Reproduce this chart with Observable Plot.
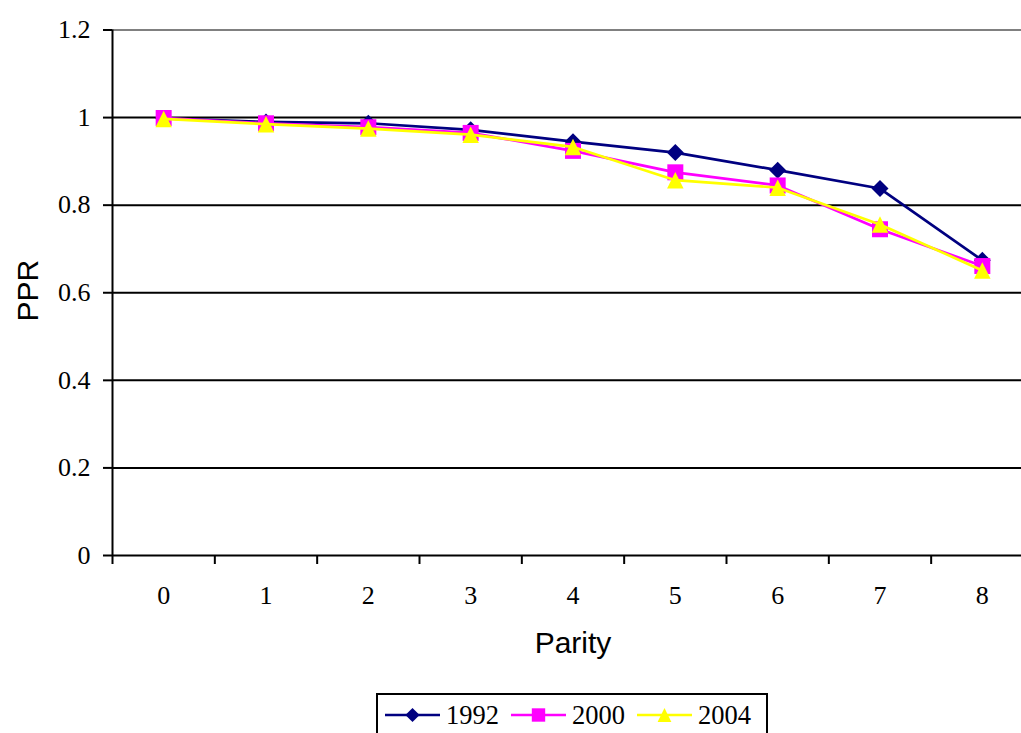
<!DOCTYPE html>
<html><head><meta charset="utf-8">
<script src="https://cdn.jsdelivr.net/npm/d3@7"></script>
<script src="https://cdn.jsdelivr.net/npm/@observablehq/plot@0.6"></script>
<style>
body{margin:0;background:#fff;}
#wrap{position:relative;width:1021px;height:733px;overflow:hidden;background:#fff;}
#legend{position:absolute;left:376px;top:693px;width:392px;height:52px;border:2px solid #000;box-sizing:border-box;
  display:flex;align-items:flex-start;padding:7px 0 0 7px;font-family:"Liberation Serif",serif;font-size:26.5px;line-height:26px;}
.item{display:flex;align-items:center;margin-right:12px;}
.item svg{display:block;margin-right:6px;}
</style></head><body><div id="wrap"></div>
<script>
const parity = [0, 1, 2, 3, 4, 5, 6, 7, 8];
const ppr1992 = [0.998, 0.990, 0.987, 0.972, 0.945, 0.920, 0.880, 0.838, 0.674];
const ppr2000 = [0.999, 0.987, 0.978, 0.965, 0.924, 0.875, 0.845, 0.745, 0.661];
const ppr2004 = [0.997, 0.985, 0.975, 0.961, 0.933, 0.857, 0.840, 0.756, 0.651];
const yTicks = [0, 0.2, 0.4, 0.6, 0.8, 1, 1.2];
const seriesNames = ["1992", "2000", "2004"];
const seriesValues = [ppr1992, ppr2000, ppr2004];
const colors = ["#000080", "#FF00FF", "#FFFF00"];

// symbols fitting a square box of side sqrt(size)
const diamondSym = {draw(ctx, size){const s = Math.sqrt(size)/2; ctx.moveTo(0,-s); ctx.lineTo(s,0); ctx.lineTo(0,s); ctx.lineTo(-s,0); ctx.closePath();}};
const squareSym = {draw(ctx, size){const s = Math.sqrt(size)/2; ctx.moveTo(-s,-s); ctx.lineTo(s,-s); ctx.lineTo(s,s); ctx.lineTo(-s,s); ctx.closePath();}};
const triangleSym = {draw(ctx, size){const s = Math.sqrt(size)/2; ctx.moveTo(0,-s); ctx.lineTo(s,s); ctx.lineTo(-s,s); ctx.closePath();}};
const symbols = [diamondSym, squareSym, triangleSym];
const markerR = [Math.sqrt(289/Math.PI), Math.sqrt(256/Math.PI), Math.sqrt(272/Math.PI)];

const xDomain = [parity[0] - 0.5, parity[parity.length - 1] + 0.5];
const boundaries = d3.range(xDomain[0], xDomain[1] + 0.01, 1);
const xMid = (parity[0] + parity[parity.length - 1]) / 2;

const seriesMarks = [];
seriesNames.forEach((name, k) => {
  const rows = parity.map((p, i) => ({parity: p, value: seriesValues[k][i], series: name}));
  seriesMarks.push(Plot.line(rows, {x: "parity", y: "value", stroke: colors[k], strokeWidth: 2.7}));
  seriesMarks.push(Plot.dot(rows, {x: "parity", y: "value", fill: colors[k], stroke: "none", symbol: () => symbols[k], r: markerR[k]}));
});

const chart = Plot.plot({
  width: 1021, height: 690,
  marginLeft: 112, marginRight: 0, marginTop: 29.5, marginBottom: 135,
  style: {fontFamily: "Liberation Serif, serif", fontSize: "26px", color: "#000", background: "#fff", overflow: "visible"},
  x: {type: "linear", domain: xDomain, range: [112, 1033]},
  y: {domain: [0, 1.2], range: [555, 29.5]},
  marks: [
    Plot.ruleY(yTicks.filter(v => v > 0 && v < 1.2), {stroke: "#000", strokeWidth: 2}),
    Plot.ruleY([1.2], {stroke: "#808080", strokeWidth: 2}),
    Plot.axisX({ticks: boundaries, tickSize: 9, tickFormat: () => "", strokeWidth: 2, label: null}),
    Plot.axisX({ticks: parity, tickSize: 0, tickPadding: 30, label: null, fontSize: 26, tickFormat: d => String(d)}),
    Plot.axisY({ticks: yTicks, tickSize: 9, tickPadding: 13, strokeWidth: 2, label: null, fontSize: 26, tickFormat: d => String(d)}),
    Plot.ruleY([0], {stroke: "#000", strokeWidth: 2}),
    Plot.ruleX([xDomain[0]], {y1: 0, y2: 1.2, stroke: "#000", strokeWidth: 2}),
    ...seriesMarks,
    Plot.text(["Parity"], {x: () => xMid, frameAnchor: "bottom", lineAnchor: "middle", textAnchor: "middle", dy: 87.4, fontFamily: "Liberation Sans, Arial, sans-serif", fontSize: 30, fill: "#000"}),
    Plot.text(["PPR"], {frameAnchor: "left", lineAnchor: "middle", textAnchor: "middle", rotate: -90, dx: -84.6, dy: -2, fontFamily: "Liberation Sans, Arial, sans-serif", fontSize: 30, fill: "#000"})
  ]
});
const wrap = document.getElementById("wrap");
wrap.appendChild(chart);

// legend
const legend = document.createElement("div");
legend.id = "legend";
seriesNames.forEach((name, k) => {
  const item = document.createElement("div");
  item.className = "item";
  const svg = d3.create("svg").attr("width", 55).attr("height", 18);
  svg.append("line").attr("x1", 0).attr("x2", 55).attr("y1", 9).attr("y2", 9).attr("stroke", colors[k]).attr("stroke-width", 2.7);
  const size = Math.PI * markerR[k] * markerR[k];
  svg.append("path").attr("transform", "translate(27.5,9)").attr("fill", colors[k]).attr("d", d3.symbol(symbols[k], size * 0.7)());
  item.appendChild(svg.node());
  const t = document.createElement("span");
  t.textContent = name;
  item.appendChild(t);
  legend.appendChild(item);
});
wrap.appendChild(legend);
</script>
</body></html>
